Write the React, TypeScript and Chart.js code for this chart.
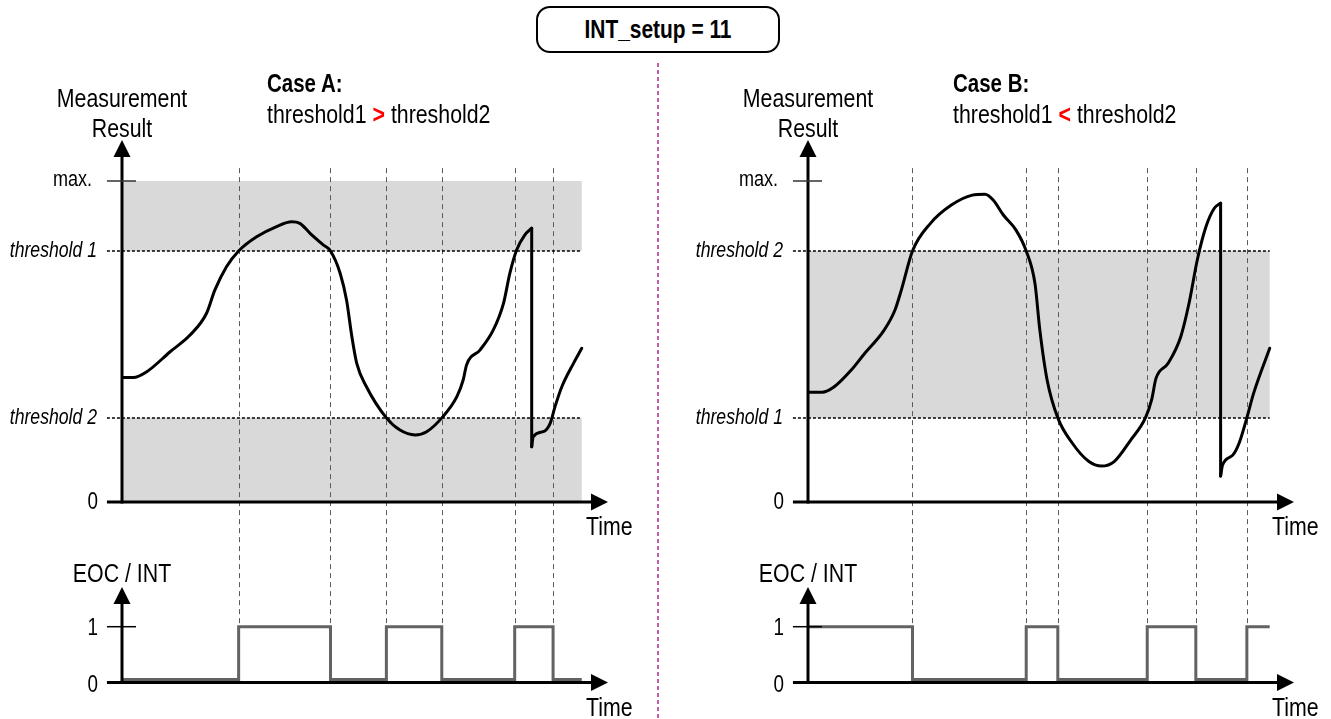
import React, { useEffect, useRef } from "react";
import { Chart, registerables } from "chart.js";

Chart.register(...registerables);

// ---------- values ----------
const MAX_LEVEL = 100;
const THRESHOLD_UPPER = 78.2;
const THRESHOLD_LOWER = 26.2;

// scale ranges (time 0..100, measurement 0..max=100, EOC 0/1)
const T_MIN = 0;
const T_MAX = 100;
const Y_MIN = -58.57;
const Y_MAX = 112.77;
const EOC_MIN = -0.199;
const EOC_MAX = 10.22;
const AXIS_START = -3.1;
const GUIDE_TOP = 104;
const EOC_ARROW_TOP = 1.75;

const caseAEvents = [24.0, 42.9, 54.4, 65.8, 80.8, 88.7];
const caseBEvents = [21.5, 44.9, 51.4, 69.8, 79.8, 90.3];

const caseAEnd = 94.6;
const caseBEnd = 95.0;

const caseABands: [number, number][] = [
  [THRESHOLD_UPPER, MAX_LEVEL],
  [0, THRESHOLD_LOWER],
];
const caseBBands: [number, number][] = [[THRESHOLD_LOWER, THRESHOLD_UPPER]];

const caseACurveRise: [number, number][] = [
  [0, 38.8], [2.3, 38.8], [5.1, 40.6], [9.9, 46.8], [14.0, 52.0], [17.4, 58.8],
  [19.1, 66.0], [21.5, 73.3], [24.0, 78.2], [27.7, 82.6], [31.8, 85.8], [34.9, 87.3],
  [36.6, 86.8], [38.7, 83.7], [41.4, 80.1], [42.9, 78.2], [44.9, 71.2], [46.2, 62.9],
  [47.3, 51.5], [48.3, 43.2], [50.3, 35.9], [54.4, 26.2], [57.2, 22.4], [60.3, 20.9],
  [62.7, 21.9], [65.8, 26.2], [68.9, 32.8], [70.2, 38.0], [70.9, 42.7], [73.7, 47.4],
  [76.4, 53.6], [78.5, 61.9], [79.8, 71.2], [81.2, 78.5], [82.9, 83.2], [84.3, 85.3],
];
const caseACurveTail: [number, number][] = [
  [84.3, 17.2], [84.6, 20.3], [86.7, 21.9], [88.1, 24.5], [89.1, 29.7],
  [90.5, 35.9], [92.9, 43.2], [94.6, 47.9],
];

const caseBCurveRise: [number, number][] = [
  [0, 34.2], [2.9, 34.2], [5.4, 35.9], [8.9, 41.1], [11.4, 45.8], [15.7, 53.6],
  [17.9, 59.8], [19.2, 66.0], [21.5, 78.2], [25.2, 86.8], [29.5, 92.5], [33.8, 95.6],
  [36.4, 95.9], [38.1, 94.1], [40.2, 89.4], [42.8, 84.7], [44.9, 78.2], [46.7, 68.1],
  [47.7, 53.6], [49.2, 38.0], [51.4, 26.2], [54.4, 18.3], [57.8, 12.6], [60.4, 11.2],
  [63.0, 12.6], [66.4, 19.3], [69.4, 26.1], [70.7, 31.8], [71.6, 38.5], [74.1, 43.2],
  [76.7, 51.5], [78.4, 61.9], [80.1, 75.4], [81.9, 85.8], [83.6, 91.5], [84.9, 93.1],
];
const caseBCurveTail: [number, number][] = [
  [84.9, 8.1], [85.3, 11.5], [87.4, 14.6], [88.7, 18.3], [90.3, 26.2],
  [91.7, 33.9], [95.0, 47.9],
];

const caseAEoc: [number, number][] = [
  [0, 0], [24.0, 1], [42.9, 0], [54.4, 1], [65.8, 0], [80.8, 1], [88.7, 0], [94.6, 0],
];
const caseBEoc: [number, number][] = [
  [0, 1], [21.5, 0], [44.9, 1], [51.4, 0], [69.8, 1], [79.8, 0], [90.3, 1], [95.0, 1],
];

// ---------- styling ----------
const FONT = '"Liberation Sans", Arial, Helvetica, sans-serif';
const NARROW = 0.82;
const BAND_COLOR = "#d9d9d9";
const EOC_COLOR = "#636363";
const GUIDE_COLOR = "#5a5a5a";
const CANVAS_W = 645;
const CANVAS_H = 719;

const toPts = (arr: [number, number][]) => arr.map(([x, y]) => ({ x, y }));

function makeDecor(bands: [number, number][], events: number[], end: number) {
  return {
    id: "decor",
    beforeDatasetsDraw(chart: any) {
      const { ctx } = chart;
      const { x, y, yE } = chart.scales;
      ctx.save();
      ctx.fillStyle = BAND_COLOR;
      const x0 = x.getPixelForValue(T_MIN);
      const x1 = x.getPixelForValue(end);
      for (const [lo, hi] of bands) {
        const top = y.getPixelForValue(hi);
        const bot = y.getPixelForValue(lo);
        ctx.fillRect(x0, top, x1 - x0, bot - top);
      }
      ctx.strokeStyle = GUIDE_COLOR;
      ctx.lineWidth = 1;
      ctx.setLineDash([5, 4]);
      for (const t of events) {
        const px = Math.round(x.getPixelForValue(t)) + 0.5;
        ctx.beginPath();
        ctx.moveTo(px, y.getPixelForValue(GUIDE_TOP));
        ctx.lineTo(px, yE.getPixelForValue(1));
        ctx.stroke();
      }
      ctx.restore();
    },
    afterDatasetsDraw(chart: any) {
      const { ctx, chartArea } = chart;
      const { x, y, yE } = chart.scales;
      const ax = x.getPixelForValue(0);
      const xs = x.getPixelForValue(AXIS_START);
      const xr = chartArea.right;
      const line = (a: number, b: number, c: number, d: number) => {
        ctx.beginPath();
        ctx.moveTo(a, b);
        ctx.lineTo(c, d);
        ctx.stroke();
      };
      const arrowUp = (px: number, tip: number) => {
        ctx.beginPath();
        ctx.moveTo(px, tip);
        ctx.lineTo(px - 8.5, tip + 17);
        ctx.lineTo(px + 8.5, tip + 17);
        ctx.closePath();
        ctx.fill();
      };
      const arrowRight = (tip: number, py: number) => {
        ctx.beginPath();
        ctx.moveTo(tip, py);
        ctx.lineTo(tip - 17, py - 8.5);
        ctx.lineTo(tip - 17, py + 8.5);
        ctx.closePath();
        ctx.fill();
      };
      ctx.save();
      ctx.setLineDash([]);
      ctx.strokeStyle = "#000";
      ctx.fillStyle = "#000";
      ctx.lineWidth = 3;
      // measurement axes
      const yb = y.getPixelForValue(0);
      const yt = y.getPixelForValue(Y_MAX);
      line(ax, yb + 1.5, ax, yt + 10);
      arrowUp(ax, yt);
      line(xs, yb, xr - 10, yb);
      arrowRight(xr, yb);
      // EOC axes
      const eb = yE.getPixelForValue(0) + 3;
      const et = yE.getPixelForValue(EOC_ARROW_TOP);
      line(ax, eb + 1.5, ax, et + 10);
      arrowUp(ax, et);
      line(xs, eb, xr - 10, eb);
      arrowRight(xr, eb);
      // small ticks
      ctx.lineWidth = 1.5;
      ctx.strokeStyle = "#333";
      const ym = y.getPixelForValue(MAX_LEVEL);
      line(xs, ym, ax + 14, ym);
      ctx.strokeStyle = "#000";
      const e1 = yE.getPixelForValue(1);
      line(xs, e1, ax + 14, e1);
      ctx.restore();
    },
  };
}

type PanelProps = {
  left: number;
  rise: [number, number][];
  tail: [number, number][];
  eoc: [number, number][];
  events: number[];
  bands: [number, number][];
  end: number;
};

function PanelChart({ left, rise, tail, eoc, events, bands, end }: PanelProps) {
  const ref = useRef<HTMLCanvasElement | null>(null);
  useEffect(() => {
    if (!ref.current) return;
    const dropLine = [rise[rise.length - 1], tail[0]];
    const curveStyle = {
      borderColor: "#000",
      borderWidth: 3,
      pointRadius: 0,
      borderJoinStyle: "round" as const,
      borderCapStyle: "round" as const,
      fill: false,
      yAxisID: "y",
    };
    const thresholdSet = (v: number) => ({
      data: toPts([[AXIS_START, v], [end, v]]),
      borderColor: "#000",
      borderWidth: 1.5,
      borderDash: [3, 2],
      pointRadius: 0,
      fill: false,
      yAxisID: "y",
      clip: false as any,
      order: 5,
    });
    const chart = new Chart(ref.current, {
      type: "line",
      data: {
        datasets: [
          thresholdSet(THRESHOLD_UPPER),
          thresholdSet(THRESHOLD_LOWER),
          {
            data: toPts(eoc),
            stepped: true,
            borderColor: EOC_COLOR,
            borderWidth: 3,
            pointRadius: 0,
            fill: false,
            yAxisID: "yE",
            order: 3,
          },
          { ...curveStyle, data: toPts(rise), cubicInterpolationMode: "monotone", order: 1 },
          { ...curveStyle, data: toPts(dropLine), tension: 0, order: 1 },
          { ...curveStyle, data: toPts(tail), cubicInterpolationMode: "monotone", order: 1 },
        ] as any,
      },
      options: {
        animation: false,
        responsive: false,
        devicePixelRatio: 1,
        events: [],
        layout: { padding: { left: 122, right: CANVAS_W - 608, top: 140, bottom: 29 } },
        plugins: { legend: { display: false }, tooltip: { enabled: false }, title: { display: false } },
        scales: {
          x: { type: "linear", min: T_MIN, max: T_MAX, display: false },
          y: { type: "linear", min: Y_MIN, max: Y_MAX, display: false },
          yE: { type: "linear", min: EOC_MIN, max: EOC_MAX, display: false },
        },
      },
      plugins: [makeDecor(bands, events, end)],
    });
    return () => chart.destroy();
  }, []);
  return (
    <canvas
      ref={ref}
      width={CANVAS_W}
      height={CANVAS_H}
      style={{ position: "absolute", left, top: 0, width: CANVAS_W, height: CANVAS_H }}
    />
  );
}

type LabelProps = {
  x: number;
  y: number;
  align?: "left" | "center" | "right";
  size?: number;
  bold?: boolean;
  italic?: boolean;
  children: React.ReactNode;
};

function Label({ x, y, align = "left", size = 26, bold = false, italic = false, children }: LabelProps) {
  const tx = align === "left" ? "0" : align === "center" ? "-50%" : "-100%";
  const origin = align === "left" ? "left center" : align === "center" ? "center center" : "right center";
  return (
    <div
      style={{
        position: "absolute",
        left: x,
        top: y,
        transform: `translate(${tx}, -50%) scaleX(${NARROW})`,
        transformOrigin: origin,
        fontFamily: FONT,
        fontSize: size,
        fontWeight: bold ? 700 : 400,
        fontStyle: italic ? "italic" : "normal",
        lineHeight: 1,
        whiteSpace: "nowrap",
        color: "#000",
      }}
    >
      {children}
    </div>
  );
}

function PanelLabels({ dx, caseName, relation, upperLabel, lowerLabel }: { dx: number; caseName: string; relation: string; upperLabel: string; lowerLabel: string }) {
  return (
    <>
      <Label x={122 + dx} y={97.5} align="center">Measurement</Label>
      <Label x={122 + dx} y={128} align="center">Result</Label>
      <Label x={266.7 + dx} y={82.5} size={25} bold>{caseName}</Label>
      <Label x={266.7 + dx} y={113.7}>
        threshold1 <span style={{ color: "#ff0000", fontWeight: 700 }}>{relation}</span> threshold2
      </Label>
      <Label x={92 + dx} y={179} align="right" size={22}>max.</Label>
      <Label x={97 + dx} y={251} align="right" size={21.5} italic>{upperLabel}</Label>
      <Label x={97 + dx} y={418} align="right" size={21.5} italic>{lowerLabel}</Label>
      <Label x={98 + dx} y={501} align="right" size={23}>0</Label>
      <Label x={586 + dx} y={526} size={26}>Time</Label>
      <Label x={122 + dx} y={572.5} align="center">EOC / INT</Label>
      <Label x={98 + dx} y={627} align="right" size={23}>1</Label>
      <Label x={98 + dx} y={684} align="right" size={23}>0</Label>
      <Label x={586 + dx} y={707} size={26}>Time</Label>
    </>
  );
}

export default function App() {
  return (
    <div
      style={{
        position: "absolute",
        left: 0,
        top: 0,
        width: 1331,
        height: 719,
        background: "#fff",
        overflow: "hidden",
      }}
    >
      <svg width={1331} height={719} style={{ position: "absolute", left: 0, top: 0 }}>
        <line x1={658} y1={63} x2={658} y2={719} stroke="#c45fa6" strokeWidth={2} strokeDasharray="4 3" />
      </svg>
      <PanelChart left={0} rise={caseACurveRise} tail={caseACurveTail} eoc={caseAEoc} events={caseAEvents} bands={caseABands} end={caseAEnd} />
      <PanelChart left={686} rise={caseBCurveRise} tail={caseBCurveTail} eoc={caseBEoc} events={caseBEvents} bands={caseBBands} end={caseBEnd} />
      <PanelLabels dx={0} caseName="Case A:" relation=">" upperLabel="threshold 1" lowerLabel="threshold 2" />
      <PanelLabels dx={686} caseName="Case B:" relation="<" upperLabel="threshold 2" lowerLabel="threshold 1" />
      <div
        style={{
          position: "absolute",
          left: 536,
          top: 6,
          width: 244,
          height: 47,
          boxSizing: "border-box",
          border: "2px solid #000",
          borderRadius: 14,
          background: "#fff",
        }}
      />
      <Label x={658} y={29.5} align="center" size={25.5} bold>INT_setup = 11</Label>
    </div>
  );
}
